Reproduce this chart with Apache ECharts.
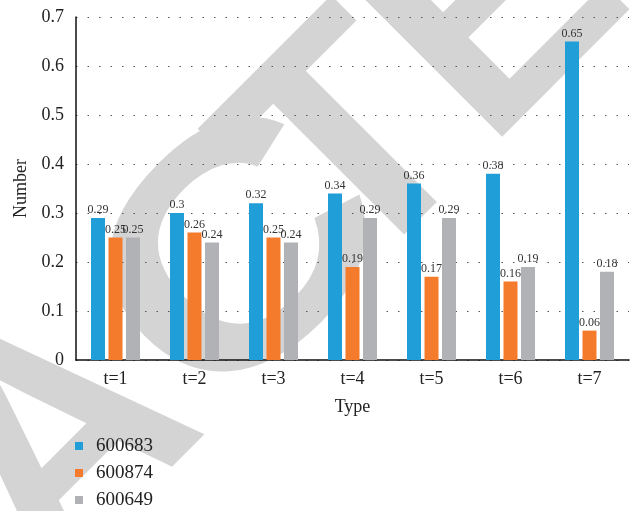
<!DOCTYPE html>
<html>
<head>
<meta charset="utf-8">
<script src="https://cdn.jsdelivr.net/npm/echarts@6/dist/echarts.min.js"></script>
<style>
  html, body { margin: 0; padding: 0; background: #fff; }
  #chart { width: 632px; height: 511px; }
</style>
</head>
<body>
<div id="chart"></div>
<script>
// Categories and series values
const categories = ['t=1', 't=2', 't=3', 't=4', 't=5', 't=6', 't=7'];
const seriesNames = ['600683', '600874', '600649'];
const values600683 = [0.29, 0.3, 0.32, 0.34, 0.36, 0.38, 0.65];
const values600874 = [0.25, 0.26, 0.25, 0.19, 0.17, 0.16, 0.06];
const values600649 = [0.25, 0.24, 0.24, 0.29, 0.29, 0.19, 0.18];
const yTicks = [0, 0.1, 0.2, 0.3, 0.4, 0.5, 0.6, 0.7];

const colors = ['#209ED8', '#F47B2C', '#B1B2B5'];
const serif = '"Liberation Serif", "DejaVu Serif", serif';

const chart = echarts.init(document.getElementById('chart'), null, { renderer: 'canvas' });

// Diagonal "RETRACTED" stamp: letters laid along a 45° baseline.
// s = distance along the baseline, h = height of the letter middle above it.
const STAMP_BASE = 319;
const STAMP_H = 88;
const stampLetters = [
  { ch: 'A', s: -270, sx: 1.0 },
  { ch: 'C', s: -12, sx: 1.2 },
  { ch: 'T', s: 143, sx: 1.0 },
  { ch: 'E', s: 344, sx: 1.0 }
];
function stampPoint(s, h) {
  const k = Math.SQRT1_2;
  return [STAMP_BASE + k * (s - h), STAMP_BASE - k * (s + h)];
}
const stampGraphics = stampLetters.map(function (l) {
  const p = stampPoint(l.s, STAMP_H);
  return {
    type: 'text',
    z: -10,
    x: p[0],
    y: p[1],
    rotation: Math.PI / 4,
    scaleX: l.sx,
    silent: true,
    style: {
      text: l.ch,
      font: 'bold 321px "Liberation Sans", sans-serif',
      fill: '#d4d4d4',
      align: 'center',
      verticalAlign: 'middle'
    }
  };
});

function barSeries(name, data, color) {
  return {
    name: name,
    type: 'bar',
    data: data,
    barWidth: 14,
    barGap: '25%',
    itemStyle: { color: color },
    label: {
      show: true,
      position: 'top',
      distance: 2,
      fontFamily: serif,
      fontSize: 12,
      color: '#333'
    }
  };
}

chart.setOption({
  animation: false,
  color: colors,
  graphic: stampGraphics,
  grid: { left: 76, right: 3, top: 17, bottom: 151 },
  legend: {
    orient: 'vertical',
    left: 75,
    top: 436,
    padding: 0,
    itemWidth: 8,
    itemHeight: 8,
    itemGap: 7,
    icon: 'rect',
    textStyle: {
      fontFamily: serif,
      fontSize: 19,
      lineHeight: 20,
      color: '#222',
      padding: [0, 0, 0, 8]
    },
    data: seriesNames
  },
  xAxis: {
    type: 'category',
    data: categories,
    name: 'Type',
    nameLocation: 'middle',
    nameGap: 38,
    nameTextStyle: { fontFamily: serif, fontSize: 18, color: '#222' },
    axisLine: { lineStyle: { color: '#111', width: 1.5 } },
    axisTick: { show: false },
    axisLabel: { fontFamily: serif, fontSize: 18, color: '#222', margin: 10 }
  },
  yAxis: {
    type: 'value',
    min: yTicks[0],
    max: yTicks[yTicks.length - 1],
    interval: 0.1,
    name: 'Number',
    nameLocation: 'middle',
    nameGap: 44,
    nameTextStyle: { fontFamily: serif, fontSize: 18, color: '#222' },
    axisLine: { show: true, lineStyle: { color: '#111', width: 1.5 } },
    axisTick: { show: false },
    axisLabel: { fontFamily: serif, fontSize: 18, color: '#222', margin: 12 },
    splitLine: { lineStyle: { color: '#555', type: [1.5, 10], width: 1 } }
  },
  series: [
    barSeries(seriesNames[0], values600683, colors[0]),
    barSeries(seriesNames[1], values600874, colors[1]),
    barSeries(seriesNames[2], values600649, colors[2])
  ]
});
</script>
</body>
</html>
